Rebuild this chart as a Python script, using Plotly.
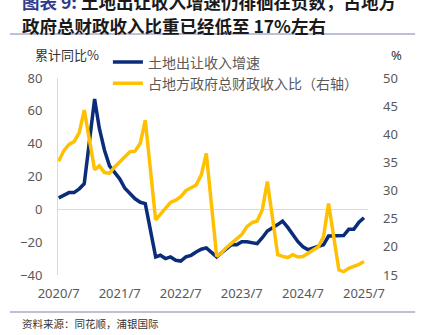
import plotly.graph_objects as go

# Monthly cumulative data (January is reported together with February)
months = [
    "2020-07", "2020-08", "2020-09", "2020-10", "2020-11", "2020-12",
    "2021-02", "2021-03", "2021-04", "2021-05", "2021-06", "2021-07",
    "2021-08", "2021-09", "2021-10", "2021-11", "2021-12",
    "2022-02", "2022-03", "2022-04", "2022-05", "2022-06", "2022-07",
    "2022-08", "2022-09", "2022-10", "2022-11", "2022-12",
    "2023-02", "2023-03", "2023-04", "2023-05", "2023-06", "2023-07",
    "2023-08", "2023-09", "2023-10", "2023-11", "2023-12",
    "2024-02", "2024-03", "2024-04", "2024-05", "2024-06", "2024-07",
    "2024-08", "2024-09", "2024-10", "2024-11", "2024-12",
    "2025-02", "2025-03", "2025-04", "2025-05", "2025-06", "2025-07",
]

# Land-sale revenue, cumulative YoY (%), left axis
land_yoy = [
    7.0, 8.9, 10.2, 10.2, 12.5, 15.6,
    67.2, 49.4, 36.0, 26.5, 22.3, 18.6, 12.8, 9.2, 6.4, 4.3, 3.5,
    -29.0, -28.0, -30.0, -29.0, -31.0, -31.5, -29.0, -28.0, -26.0, -24.3, -23.5,
    -29.0, -26.6, -23.7, -21.5, -21.6, -19.7, -19.8, -20.3, -20.9, -17.3, -13.2,
    -9.3, -7.2, -11.0, -15.3, -19.7, -22.8, -24.6, -23.5, -22.3, -21.6, -16.3,
    -16.3, -16.0, -12.2, -12.2, -7.8, -5.1,
]

# Land-sale revenue as share of local government total fiscal revenue (%), right axis
land_share = [
    35.2, 37.1, 38.2, 38.7, 40.3, 44.3,
    33.7, 34.4, 33.2, 33.1, 34.2, 35.0, 36.0, 36.9, 37.0, 38.4, 42.5,
    24.8, 25.8, 26.8, 27.9, 28.3, 28.9, 30.0, 30.5, 31.0, 32.8, 36.6,
    18.3, 18.9, 19.9, 20.6, 21.4, 22.2, 23.6, 24.3, 24.6, 26.6, 31.6,
    18.6, 18.3, 18.1, 18.6, 18.2, 18.3, 18.9, 19.4, 20.0, 21.8, 27.7,
    15.9, 15.6, 16.2, 16.5, 16.9, 17.4,
]

x_tick_dates = ["2020-07-01", "2021-07-01", "2022-07-01", "2023-07-01", "2024-07-01", "2025-07-01"]
x_tick_text = ["2020/7", "2021/7", "2022/7", "2023/7", "2024/7", "2025/7"]
left_ticks = [-40, -20, 0, 20, 40, 60, 80]
right_ticks = [15, 20, 25, 30, 35, 40, 45, 50]

BLUE = "#0B2C7A"
GOLD = "#FFC000"
GREY = "#595959"
CJK = "Noto Sans CJK SC"
NUM = "Noto Sans"

dates = [m + "-01" for m in months]

fig = go.Figure()
fig.add_trace(go.Scatter(
    x=dates, y=land_yoy, name="土地出让收入增速", mode="lines",
    line=dict(color=BLUE, width=3.5), yaxis="y",
))
fig.add_trace(go.Scatter(
    x=dates, y=land_share, name="占地方政府总财政收入比（右轴）", mode="lines",
    line=dict(color=GOLD, width=3.5), yaxis="y2",
))

fig.update_layout(
    width=432, height=335,
    margin=dict(l=58, r=64, t=78, b=60),
    paper_bgcolor="white", plot_bgcolor="white",
    showlegend=True,
    legend=dict(
        x=0.161, xanchor="left", y=1.16, yanchor="top",
        font=dict(family=CJK, size=14, color=GREY),
        bgcolor="rgba(0,0,0,0)", borderwidth=0,
        tracegroupgap=0,
    ),
    xaxis=dict(
        type="date", range=["2020-06-27", "2025-07-25"],
        tickvals=x_tick_dates, ticktext=x_tick_text,
        showgrid=False, showline=False, zeroline=False, ticks="",
        tickfont=dict(family=NUM, size=13, color=GREY),
        ticklabelstandoff=9,
    ),
    yaxis=dict(
        range=[-40, 80], tickvals=left_ticks,
        showgrid=False, zeroline=True, zerolinecolor="#D9D9D9", zerolinewidth=1,
        showline=True, linecolor="#D9D9D9", linewidth=1, ticks="",
        tickfont=dict(family=NUM, size=13, color=GREY),
        ticklabelstandoff=12,
    ),
    yaxis2=dict(
        overlaying="y", side="right", range=[15, 50], tickvals=right_ticks,
        showgrid=False, zeroline=False, showline=False, ticks="",
        tickfont=dict(family=NUM, size=13, color=GREY),
        ticklabelstandoff=14,
    ),
)

# Title block (first line runs past the top edge), axis units and source note
fig.add_annotation(
    xref="paper", yref="paper", x=-0.1226, y=1.389, xanchor="left", yanchor="middle",
    text="<span style='color:#2E3C8C'>图表 9:</span> 土地出让收入增速仍徘徊在负数，占地方",
    showarrow=False, font=dict(family=CJK, size=17.5, color="#1A1A1A", weight="bold"),
)
fig.add_annotation(
    xref="paper", yref="paper", x=-0.1226, y=1.266, xanchor="left", yanchor="middle",
    text="政府总财政收入比重已经低至 17%左右",
    showarrow=False, font=dict(family=CJK, size=17.5, color="#1A1A1A", weight="bold"),
)
fig.add_annotation(
    xref="paper", yref="paper", x=-0.0806, y=1.117, xanchor="left", yanchor="middle",
    text="累计同比%", showarrow=False, font=dict(family=CJK, size=13, color="#333333"),
)
fig.add_annotation(
    xref="paper", yref="paper", x=1.0935, y=1.117, xanchor="center", yanchor="middle",
    text="%", showarrow=False, font=dict(family=NUM, size=13, color="#333333"),
)
fig.add_annotation(
    xref="paper", yref="paper", x=-0.1226, y=-0.2437, xanchor="left", yanchor="middle",
    text="资料来源：同花顺，浦银国际", showarrow=False,
    font=dict(family=CJK, size=10.5, color="#333333"),
)

# Separator rules above and below the chart
for yy in (1.2234, -0.1878):
    fig.add_shape(
        type="line", xref="paper", yref="paper", x0=-0.155, x1=1.152, y0=yy, y1=yy,
        line=dict(color="#AAAACC", width=1.5),
    )

fig.write_html("out.html")
